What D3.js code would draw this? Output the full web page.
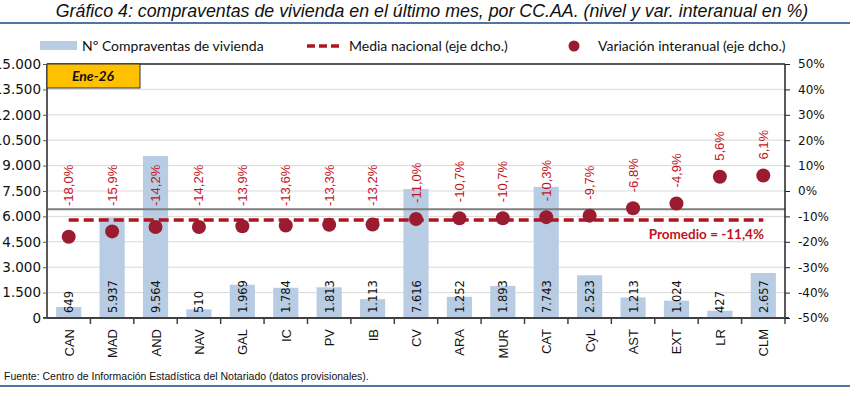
<!DOCTYPE html>
<html>
<head>
<meta charset="utf-8">
<script src="https://cdn.jsdelivr.net/npm/d3@7"></script>
<style>
  body { margin: 0; background: #fff; }
  svg { display: block; }
</style>
</head>
<body>
<div id="chart"></div>
<script>
// data
const categories = ['CAN', 'MAD', 'AND', 'NAV', 'GAL', 'IC', 'PV', 'IB', 'CV', 'ARA', 'MUR', 'CAT', 'CyL', 'AST', 'EXT', 'LR', 'CLM'];
const sales = [649, 5937, 9564, 510, 1969, 1784, 1813, 1113, 7616, 1252, 1893, 7743, 2523, 1213, 1024, 427, 2657];
const variation = [-18.0, -15.9, -14.2, -14.2, -13.9, -13.6, -13.3, -13.2, -11.0, -10.7, -10.7, -10.3, -9.7, -6.8, -4.9, 5.6, 6.1];
const nationalAvg = -11.4;
const refLine = -7.2;
const leftTicks = [0, 1500, 3000, 4500, 6000, 7500, 9000, 10500, 12000, 13500, 15000];
const rightTicks = [-50, -40, -30, -20, -10, 0, 10, 20, 30, 40, 50];

const width = 850, height = 399;
const plot = {left: 47, right: 785, top: 64, bottom: 318};

const es = d3.formatLocale({decimal: ',', thousands: '.', grouping: [3], currency: ['', '€'], minus: '-'});
const fmtNum = es.format(',d');
const fmtPct = es.format('.1f');

const barColor = '#b8cce4';
const dotColor = '#9b1b30';
const redLine = '#b0141e';
const labelRed = '#c0141e';

const svg = d3.select('#chart').append('svg')
    .attr('width', width)
    .attr('height', height);

// title
svg.append('text')
    .attr('x', 432).attr('y', 17)
    .attr('text-anchor', 'middle')
    .style('font-family', '"Liberation Sans Narrow", "Liberation Sans", sans-serif')
    .style('font-style', 'italic')
    .style('font-size', '17.8px')
    .attr('fill', '#111')
    .text('Gráfico 4: compraventas de vivienda en el último mes, por CC.AA. (nivel y var. interanual en %)');

svg.append('line')
    .attr('x1', 0).attr('x2', width).attr('y1', 23).attr('y2', 23)
    .attr('stroke', '#4f75a3').attr('stroke-width', 2);

// scales
const x = d3.scaleBand().domain(categories).range([plot.left, plot.right]).paddingInner(0.42).paddingOuter(0.21);
const yL = d3.scaleLinear().domain([0, 15000]).range([plot.bottom, plot.top]);
const yR = d3.scaleLinear().domain([-50, 50]).range([plot.bottom, plot.top]);
const center = d => x(d) + x.bandwidth() / 2;

// gridlines
svg.append('g').selectAll('line')
    .data(leftTicks.slice(1, -1))
    .enter().append('line')
    .attr('x1', plot.left).attr('x2', plot.right)
    .attr('y1', d => yL(d)).attr('y2', d => yL(d))
    .attr('stroke', '#d9d9d9').attr('stroke-width', 1);

// bars
svg.append('g').selectAll('rect')
    .data(categories)
    .enter().append('rect')
    .attr('x', d => x(d))
    .attr('width', x.bandwidth())
    .attr('y', (d, i) => yL(sales[i]))
    .attr('height', (d, i) => yL(0) - yL(sales[i]))
    .attr('fill', barColor);

// bar value labels
svg.append('g').selectAll('text')
    .data(categories)
    .enter().append('text')
    .attr('transform', d => 'translate(' + (center(d) + 4.5) + ',' + (plot.bottom - 5) + ') rotate(-90)')
    .style('font-family', '"DejaVu Sans", Verdana, sans-serif')
    .style('font-size', '11.5px')
    .attr('fill', '#111')
    .text((d, i) => fmtNum(sales[i]));

// grey reference line
svg.append('line')
    .attr('x1', plot.left).attr('x2', plot.right)
    .attr('y1', yR(refLine)).attr('y2', yR(refLine))
    .attr('stroke', '#7f7f7f').attr('stroke-width', 2);

// national average dashed line
svg.append('line')
    .attr('x1', center(categories[0])).attr('x2', center(categories[categories.length - 1]))
    .attr('y1', yR(nationalAvg)).attr('y2', yR(nationalAvg))
    .attr('stroke', redLine).attr('stroke-width', 3.5)
    .attr('stroke-dasharray', '10,5');

svg.append('text')
    .attr('x', 764).attr('y', yR(nationalAvg) + 19)
    .attr('text-anchor', 'end')
    .style('font-family', 'Lato, "Open Sans", sans-serif')
    .style('font-weight', 'bold')
    .style('font-size', '13.5px')
    .attr('fill', labelRed)
    .text('Promedio = ' + fmtPct(nationalAvg) + '%');

// variation dots
svg.append('g').selectAll('circle')
    .data(categories)
    .enter().append('circle')
    .attr('cx', d => center(d))
    .attr('cy', (d, i) => yR(variation[i]))
    .attr('r', 7)
    .attr('fill', dotColor);

// variation labels
svg.append('g').selectAll('text')
    .data(categories)
    .enter().append('text')
    .attr('transform', (d, i) => {
        const yEnd = Math.min(yR(variation[i]) - 16, 206);
        return 'translate(' + (center(d) + 4.5) + ',' + yEnd + ') rotate(-90)';
    })
    .style('font-family', '"Liberation Sans", Arial, sans-serif')
    .style('font-size', '13px')
    .attr('fill', labelRed)
    .text((d, i) => fmtPct(variation[i]) + '%');

// frame / axes
svg.append('line')
    .attr('x1', plot.left).attr('x2', plot.right).attr('y1', plot.top).attr('y2', plot.top)
    .attr('stroke', '#595959').attr('stroke-width', 2);
svg.append('line')
    .attr('x1', plot.left).attr('x2', plot.left).attr('y1', plot.top).attr('y2', plot.bottom)
    .attr('stroke', '#595959').attr('stroke-width', 2);
svg.append('line')
    .attr('x1', plot.right).attr('x2', plot.right).attr('y1', plot.top).attr('y2', plot.bottom)
    .attr('stroke', '#222').attr('stroke-width', 1.5);

// x axis
const xAxis = svg.append('g')
    .attr('transform', 'translate(0,' + plot.bottom + ')');
xAxis.append('line')
    .attr('x1', plot.left - 4).attr('x2', plot.right + 4)
    .attr('stroke', '#404040').attr('stroke-width', 2);
const bounds = categories.map(d => x(d) - x.step() * x.paddingInner() / 2).concat([plot.right]);
xAxis.selectAll('.tk')
    .data(bounds.slice(1))
    .enter().append('line')
    .attr('x1', d => d).attr('x2', d => d)
    .attr('y1', 0).attr('y2', 6)
    .attr('stroke', '#404040').attr('stroke-width', 1.5);
xAxis.selectAll('text')
    .data(categories)
    .enter().append('text')
    .attr('transform', d => 'translate(' + (center(d) + 5) + ',11) rotate(-90)')
    .attr('text-anchor', 'end')
    .style('font-family', '"Liberation Sans", Arial, sans-serif')
    .style('font-size', '13px')
    .attr('fill', '#111')
    .text(d => d);

// left axis
const leftAxis = svg.append('g')
    .attr('transform', 'translate(' + plot.left + ',0)')
    .call(d3.axisLeft(yL).tickValues(leftTicks).tickSize(4).tickFormat(fmtNum));
leftAxis.select('.domain').remove();
leftAxis.selectAll('line').attr('stroke', '#595959');
leftAxis.selectAll('text')
    .attr('x', -6)
    .attr('fill', '#111')
    .style('font-family', '"DejaVu Sans", Verdana, sans-serif')
    .style('font-size', '13.5px');

// right axis
const rightAxis = svg.append('g')
    .attr('transform', 'translate(' + plot.right + ',0)')
    .call(d3.axisRight(yR).tickValues(rightTicks).tickSize(5).tickFormat(d => d + '%'));
rightAxis.select('.domain').remove();
rightAxis.selectAll('line').attr('stroke', '#222');
rightAxis.selectAll('text')
    .attr('x', 13)
    .attr('fill', '#111')
    .style('font-family', '"DejaVu Sans", Verdana, sans-serif')
    .style('font-size', '12px');

// period box
svg.append('rect')
    .attr('x', plot.left).attr('y', plot.top)
    .attr('width', 93).attr('height', 24)
    .attr('fill', '#ffc000').attr('stroke', '#333').attr('stroke-width', 1);
svg.append('text')
    .attr('x', plot.left + 46).attr('y', plot.top + 17)
    .attr('text-anchor', 'middle')
    .style('font-family', 'Lato, sans-serif')
    .style('font-weight', 'bold').style('font-style', 'italic')
    .style('font-size', '14px')
    .attr('fill', '#111')
    .text('Ene-26');

// legend
const legend = svg.append('g').attr('transform', 'translate(0,46)');
legend.append('rect')
    .attr('x', 40).attr('y', -5).attr('width', 37).attr('height', 9)
    .attr('fill', barColor);
legend.append('text')
    .attr('x', 82).attr('y', 5)
    .style('font-family', 'Lato, sans-serif').style('font-size', '14px')
    .attr('fill', '#111')
    .text('Nº Compraventas de vivienda');
legend.append('line')
    .attr('x1', 307).attr('x2', 343).attr('y1', 0).attr('y2', 0)
    .attr('stroke', redLine).attr('stroke-width', 3.5).attr('stroke-dasharray', '8,4');
legend.append('text')
    .attr('x', 349).attr('y', 5)
    .style('font-family', 'Lato, sans-serif').style('font-size', '14px')
    .attr('fill', '#111')
    .text('Media nacional (eje dcho.)');
legend.append('circle')
    .attr('cx', 574).attr('cy', 0).attr('r', 5.5)
    .attr('fill', dotColor);
legend.append('text')
    .attr('x', 598).attr('y', 5)
    .style('font-family', 'Lato, sans-serif').style('font-size', '14px')
    .attr('fill', '#111')
    .text('Variación interanual (eje dcho.)');

// source
svg.append('text')
    .attr('x', 4).attr('y', 380)
    .style('font-family', '"Liberation Sans Narrow", "Liberation Sans", sans-serif')
    .style('font-size', '10.5px')
    .attr('fill', '#111')
    .text('Fuente: Centro de Información Estadística del Notariado (datos provisionales).');

svg.append('line')
    .attr('x1', 0).attr('x2', width).attr('y1', 386).attr('y2', 386)
    .attr('stroke', '#4f75a3').attr('stroke-width', 2);
</script>
</body>
</html>
